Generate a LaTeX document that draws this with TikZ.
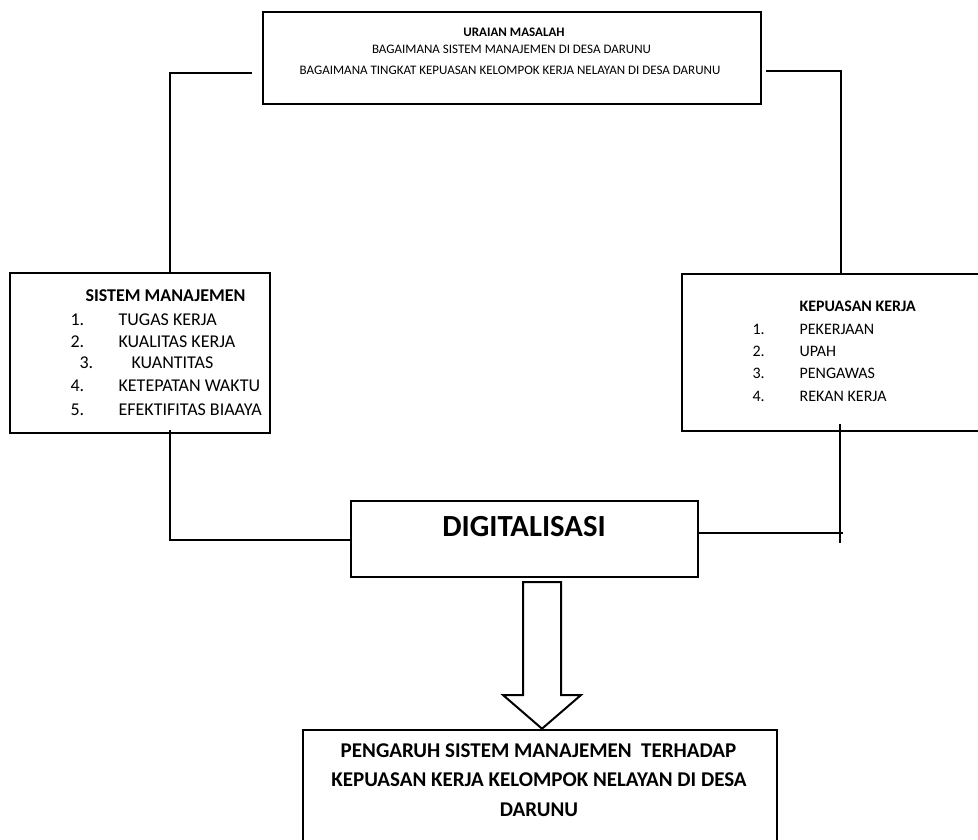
\documentclass[tikz,border=0pt]{standalone}
\usepackage{fontspec}
\setmainfont{Carlito}

\begin{document}
\begin{tikzpicture}[x=1pt,y=-1pt,line width=1.2pt,
  box/.style={draw,rectangle,line width=2.6pt,inner sep=0pt},
  txt/.style={inner sep=0pt,text height=0.65em,text depth=0pt},
  kecil/.style={txt,font=\fontsize{13}{13}\selectfont},
  daftar/.style={txt,font=\fontsize{18}{18}\selectfont,anchor=west},
  daftarkanan/.style={txt,font=\fontsize{16}{16}\selectfont,anchor=west},
  judul/.style={txt,font=\fontsize{21}{21}\selectfont\bfseries}]
\useasboundingbox (0,0) rectangle (978,839);
\clip (0,0) rectangle (978,839);

% kotak
\node[box,minimum width=498,minimum height=92]  (masalah)  at (512,58)    {};
\node[box,minimum width=260,minimum height=160] (sistem)   at (140,353)   {};
\node[box,minimum width=318,minimum height=157] (kepuasan) at (841,352.5) {};
\node[box,minimum width=347,minimum height=76]  (digital)  at (524.5,539) {};
\node[box,minimum width=474,minimum height=140] (pengaruh) at (540,800)   {};

% uraian masalah
\node[kecil,font=\fontsize{13}{13}\selectfont\bfseries] (m0) at (514,33) {URAIAN MASALAH};
\node[kecil] (m1) at (511.5,50) {BAGAIMANA SISTEM MANAJEMEN DI DESA DARUNU};
\node[kecil] (m2) at (510,71)   {BAGAIMANA TINGKAT KEPUASAN KELOMPOK KERJA NELAYAN DI DESA DARUNU};

% sistem manajemen
\node[daftar,anchor=center,font=\fontsize{18}{18}\selectfont\bfseries] (s0) at (165.5,298) {SISTEM MANAJEMEN};
\node[daftar] (s1n) at (70,322) {1.};  \node[daftar] (s1) at (118,322) {TUGAS KERJA};
\node[daftar] (s2n) at (70,344) {2.};  \node[daftar] (s2) at (118,344) {KUALITAS KERJA};
\node[daftar] (s3n) at (79,365) {3.};  \node[daftar] (s3) at (131,365) {KUANTITAS};
\node[daftar] (s4n) at (70,388) {4.};  \node[daftar] (s4) at (118,388) {KETEPATAN WAKTU};
\node[daftar] (s5n) at (70,412) {5.};  \node[daftar] (s5) at (118,412) {EFEKTIFITAS BIAAYA};

% kepuasan kerja
\node[daftarkanan,font=\fontsize{16}{16}\selectfont\bfseries] (k0) at (799,308) {KEPUASAN KERJA};
\node[daftarkanan] (k1n) at (752,331) {1.};  \node[daftarkanan] (k1) at (799,331) {PEKERJAAN};
\node[daftarkanan] (k2n) at (752,353) {2.};  \node[daftarkanan] (k2) at (799,353) {UPAH};
\node[daftarkanan] (k3n) at (752,375) {3.};  \node[daftarkanan] (k3) at (799,375) {PENGAWAS};
\node[daftarkanan] (k4n) at (752,398) {4.};  \node[daftarkanan] (k4) at (799,398) {REKAN KERJA};

% digitalisasi dan hasil
\node[txt,font=\fontsize{30.7}{30.7}\selectfont\bfseries] (d0) at (524,533) {DIGITALISASI};
\node[judul] (p1) at (538.5,754) {PENGARUH SISTEM MANAJEMEN\ \ TERHADAP};
\node[judul] (p2) at (539,783)   {KEPUASAN KERJA KELOMPOK NELAYAN DI DESA};
\node[judul] (p3) at (539,813)   {DARUNU};

% garis
\draw ([xshift=-10pt,yshift=-15pt]masalah.west) -| ([xshift=30pt]sistem.north);
\draw ([xshift=4pt,yshift=-13pt]masalah.east) -| (kepuasan.north);
\draw ([xshift=30pt,yshift=4pt]sistem.south) |- ([yshift=-1pt]digital.west);
\draw ([yshift=6pt]digital.east) -- ++(144,0);
\draw ([xshift=-1pt,yshift=8pt]kepuasan.south) -- ++(0,119);

% panah
\draw[line width=2pt,line join=miter] (523,582) -- (561,582) -- (561,695) -- (581,695)
  -- (pengaruh.north -| 542,0) -- (503,695) -- (523,695) -- cycle;
\end{tikzpicture}
\end{document}
